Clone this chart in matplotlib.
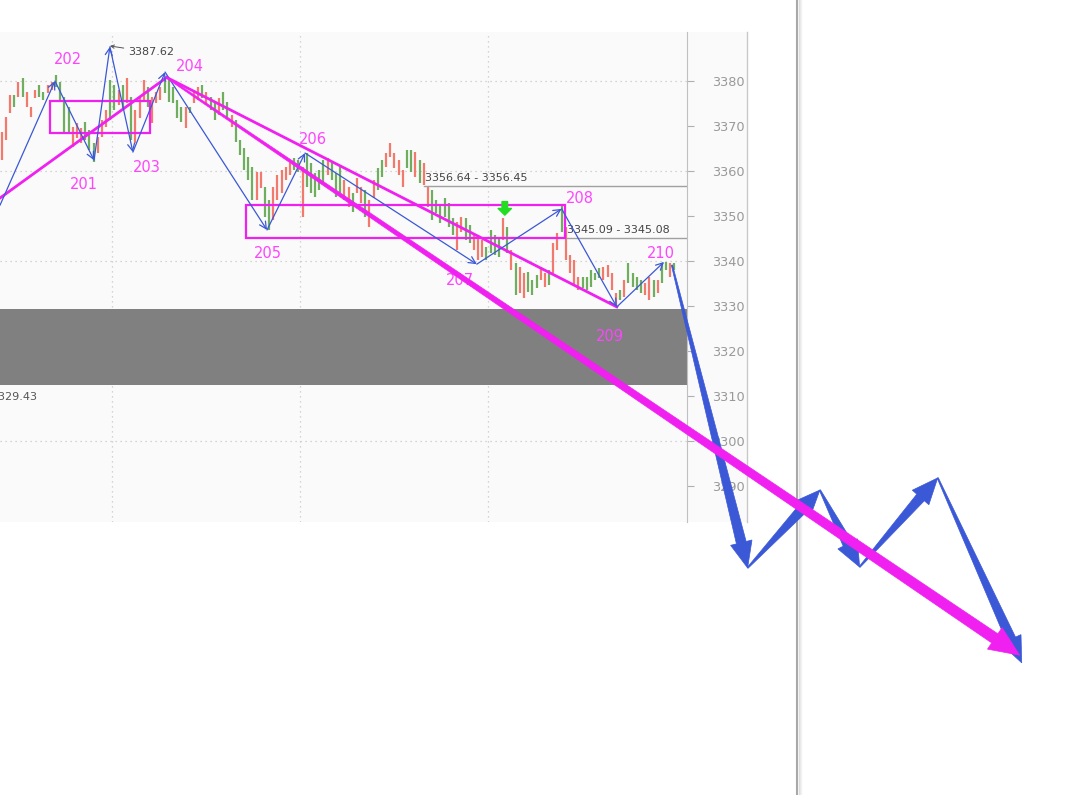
import matplotlib
matplotlib.use("Agg")
import matplotlib.pyplot as plt
from matplotlib.patches import Rectangle, Polygon
from matplotlib.lines import Line2D
from matplotlib.transforms import IdentityTransform
import numpy as np

# ---------------- data ----------------
bar_high = [3368.7, 3372.0, 3376.9, 3376.9, 3379.8, 3380.7, 3377.6, 3374.2, 3378.0, 3379.1,
            3377.6, 3379.1, 3379.8, 3381.3, 3379.8, 3376.4, 3374.2, 3369.8, 3370.7, 3369.6,
            3370.9, 3369.1, 3366.2, 3367.6, 3371.3, 3373.6, 3380.2, 3379.1, 3378.0, 3379.1,
            3380.7, 3376.4, 3373.6, 3376.4, 3380.2, 3378.7, 3376.4, 3377.6, 3378.7, 3380.2,
            3380.7, 3378.7, 3375.8, 3374.2, 3374.2, 3374.2, 3378.0, 3378.7, 3379.1, 3377.6,
            3376.4, 3375.3, 3376.2, 3377.6, 3375.3, 3372.4, 3371.3, 3366.9, 3365.1, 3363.1,
            3360.9, 3359.8, 3359.8, 3356.4, 3353.6, 3356.4, 3359.1, 3360.2, 3360.9, 3361.8,
            3362.9, 3362.4, 3360.9, 3364.0, 3361.8, 3359.6, 3360.2, 3362.4, 3362.9, 3361.8,
            3359.6, 3360.9, 3358.0, 3356.4, 3355.1, 3358.4, 3356.4, 3355.8, 3353.6, 3358.0,
            3360.7, 3362.4, 3364.0, 3366.2, 3364.0, 3362.4, 3360.2, 3364.7, 3364.7, 3364.2,
            3362.4, 3361.8, 3356.4, 3355.8, 3353.6, 3352.4, 3354.0, 3352.9, 3349.6, 3348.7,
            3349.8, 3349.6, 3348.0, 3346.2, 3345.3, 3344.7, 3343.1, 3346.9, 3345.8, 3345.3,
            3349.6, 3347.6, 3342.4, 3339.6, 3338.7, 3337.3, 3337.6, 3335.8, 3336.9, 3338.7,
            3337.3, 3338.0, 3344.0, 3346.2, 3352.4, 3347.6, 3341.3, 3340.2, 3336.4, 3336.4,
            3336.4, 3338.0, 3337.3, 3338.4, 3338.7, 3339.1, 3337.3, 3332.9, 3333.6, 3335.8,
            3339.6, 3337.3, 3336.4, 3335.8, 3335.1, 3336.4, 3335.8, 3335.8, 3339.6, 3339.8,
            3339.6, 3339.6]
bar_low = [3362.4, 3366.9, 3372.9, 3374.2, 3376.4, 3376.4, 3374.2, 3372.0, 3376.2, 3376.4,
           3375.8, 3377.3, 3378.0, 3378.7, 3375.3, 3368.4, 3368.4, 3365.3, 3367.3, 3366.2,
           3366.9, 3364.7, 3362.0, 3364.0, 3367.6, 3369.8, 3371.3, 3373.6, 3374.7, 3373.6,
           3375.1, 3366.9, 3366.2, 3371.8, 3375.8, 3374.2, 3370.7, 3375.1, 3375.8, 3377.3,
           3375.3, 3375.1, 3371.8, 3370.9, 3369.6, 3372.9, 3375.1, 3375.8, 3376.2, 3374.7,
           3373.6, 3371.3, 3372.4, 3373.6, 3371.8, 3369.8, 3366.4, 3363.6, 3360.2, 3358.0,
           3353.6, 3353.6, 3356.2, 3349.8, 3346.9, 3349.1, 3353.6, 3355.1, 3358.0, 3359.1,
           3360.2, 3359.8, 3349.8, 3356.4, 3355.1, 3354.2, 3355.8, 3357.3, 3359.1, 3358.0,
           3354.2, 3355.1, 3353.6, 3352.0, 3350.9, 3355.1, 3352.9, 3349.8, 3347.6, 3354.0,
           3355.8, 3358.7, 3360.9, 3363.1, 3360.7, 3359.1, 3356.4, 3360.7, 3359.8, 3358.7,
           3357.3, 3356.9, 3352.0, 3349.1, 3350.7, 3348.4, 3349.8, 3347.6, 3345.8, 3342.4,
           3346.4, 3344.7, 3344.0, 3342.4, 3340.2, 3340.9, 3340.2, 3341.8, 3341.3, 3340.9,
           3344.7, 3341.8, 3338.0, 3332.4, 3332.9, 3331.8, 3333.1, 3332.4, 3334.0, 3335.8,
           3334.2, 3334.7, 3337.3, 3342.4, 3346.4, 3340.2, 3337.3, 3334.7, 3333.6, 3334.0,
           3333.6, 3334.2, 3335.8, 3336.2, 3335.8, 3336.4, 3333.6, 3329.8, 3331.3, 3332.0,
           3335.1, 3334.2, 3333.6, 3332.9, 3332.4, 3331.3, 3332.0, 3332.9, 3335.1, 3338.0,
           3336.4, 3338.0]
bar_dir = ("rrrgrgrrrg" "grrggggrrr" "gggrrrggrg" "rgrrrgrrrg" "ggggrgrrgr"
           "ggrggrgggg" "grrggrrrrr" "ggrgggggrg" "ggrrgrrgrr" "ggrrrrrggr"
           "grrggggggr" "rggrrrgggg" "rgrgrrgggr" "rgrrgrrrrg" "ggggrrrrgr"
           "ggggrrgrgg" "rgrrggr")[:len(bar_high)]

# swing points (bar index, price)
swing_x = [-0.4, 12.75, 22.1, 25.9, 31.4, 39.1, 63.5, 72.6, 113.7, 134.0, 147.2, 158.5]
swing_y = [3352.4, 3380.0, 3362.4, 3387.62, 3364.2, 3382.0, 3346.9, 3364.0, 3339.3, 3351.6, 3329.8, 3339.8]

wave_labels = ["202", "201", "203", "204", "205", "206", "207", "208", "209", "210"]
wave_lx = [15.9, 19.7, 34.8, 45.1, 63.7, 74.5, 109.7, 138.4, 145.5, 157.7]
wave_ly = [3384.7, 3356.9, 3360.7, 3383.3, 3341.6, 3367.1, 3335.6, 3354.0, 3323.3, 3341.6]

# projected path
proj_x = [160.4, 178.5, 195.8, 205.3, 224.0, 244.1]
proj_y = [3339.1, 3271.8, 3289.1, 3272.0, 3291.8, 3250.7]

# magenta trend lines
trend_start = (-0.4, 3354.0)
trend_pivot = (39.5, 3380.8)
trend_end_upper = (147.2, 3329.8)
trend_proj_end = (243.6, 3252.4)

# boxes (x0, x1, low, high)
boxes = [(11.6, 35.5, 3368.4, 3375.6), (58.4, 134.8, 3345.1, 3352.4)]

levels = [(101.0, 3356.64, "3356.64 - 3356.45"), (135.0, 3345.09, "3345.09 - 3345.08")]
band_top, band_bottom = 3329.43, 3312.4
yticks = [3290, 3300, 3310, 3320, 3330, 3340, 3350, 3360, 3370, 3380]

# ---------------- style ----------------
BLUE = "#3b58d6"
MAG = "#f020f0"
LMAG = "#ff44ff"
RED = "#f27a6c"
GREEN = "#6fae5e"

W, H = 1089, 795
fig = plt.figure(figsize=(W / 100, H / 100), dpi=100)
fig.patch.set_facecolor("white")

fig.add_artist(Rectangle((0, 1 - 522 / H), 747 / W, 490 / H, transform=fig.transFigure,
                         facecolor="#fafafa", edgecolor="none", zorder=0))
fig.add_artist(Line2D([747 / W, 747 / W], [1 - 522 / H, 1 - 32 / H], transform=fig.transFigure,
                      color="#c8c8c8", lw=1.0, zorder=1))
fig.add_artist(Line2D([797 / W, 797 / W], [0, 1], transform=fig.transFigure, color="#a8a8a8", lw=1.5, zorder=1))
for k, c in enumerate(["#dcdcdc", "#e8e8e8", "#f2f2f2"]):
    x = (799 + k) / W
    fig.add_artist(Line2D([x, x], [0, 1], transform=fig.transFigure, color=c, lw=1, zorder=1))

ax = fig.add_axes([0, 1 - 522 / H, 687 / W, 490 / H])
ax.set_facecolor("#fafafa")
ax.set_xlim(-0.4, 164.0)
ax.set_ylim(3282.0, 3390.9)
for s in ["left", "top", "bottom"]:
    ax.spines[s].set_visible(False)
ax.spines["right"].set_color("#c0c0c0")
ax.set_xticks([])
ax.yaxis.tick_right()
ax.set_yticks(yticks)
ax.set_yticklabels([str(t) for t in yticks])
ax.tick_params(axis="y", length=5, color="#b0b0b0", labelcolor="#999999", labelsize=9.3, pad=13)

for g in [3300, 3320, 3340, 3360, 3380]:
    ax.axhline(g, color="#c8c8c8", lw=0.9, ls=(0, (1, 3)), zorder=1)
for gx in [26.4, 71.4, 116.4]:
    ax.axvline(gx, color="#c8c8c8", lw=0.9, ls=(0, (1, 3)), zorder=1)

ax.axhspan(band_bottom, band_top, color="#808080", zorder=2, lw=0)
ax.text(8.4, 3309.8, "3329.43", ha="right", va="center", fontsize=8, color="#555555", clip_on=True, zorder=3)

xs = np.arange(len(bar_high))
cols = [RED if c == "r" else GREEN for c in bar_dir]
ax.vlines(xs, bar_low, bar_high, colors=cols, lw=1.6, zorder=3)

for lx, lv, txt in levels:
    ax.plot([lx, 164.0], [lv, lv], color="#a0a0a0", lw=1.0, zorder=3)
    ax.text(lx + 0.2, lv + 0.8, txt, fontsize=8, color="#444444", ha="left", va="bottom", zorder=6)

for x0, x1, lo, hi in boxes:
    ax.add_patch(Rectangle((x0, lo), x1 - x0, hi - lo, fill=False, edgecolor=MAG, lw=1.6, zorder=5))

ax.plot([trend_start[0], trend_pivot[0]], [trend_start[1], trend_pivot[1]], color=MAG, lw=2.0, zorder=5)
ax.plot([trend_pivot[0], trend_end_upper[0]], [trend_pivot[1], trend_end_upper[1]], color=MAG, lw=2.0, zorder=5)

for i in range(len(swing_x) - 1):
    ax.annotate("", xy=(swing_x[i + 1], swing_y[i + 1]), xytext=(swing_x[i], swing_y[i]),
                arrowprops=dict(arrowstyle="->,head_length=0.5,head_width=0.25", color=BLUE, lw=0.9,
                                shrinkA=0, shrinkB=0, mutation_scale=10), zorder=6)

ax.annotate("3387.62", xy=(25.9, 3387.8), xytext=(30.2, 3386.4), fontsize=8, color="#444444",
            ha="left", va="center",
            arrowprops=dict(arrowstyle="->", color="#555555", lw=0.7, shrinkA=1, shrinkB=0,
                            mutation_scale=6), zorder=6)

for t, lx, ly in zip(wave_labels, wave_lx, wave_ly):
    ax.text(lx, ly, t, color=LMAG, fontsize=10.5, ha="center", va="center", zorder=7)

ax.annotate("", xy=(120.4, 3350.2), xytext=(120.4, 3353.2),
            arrowprops=dict(arrowstyle="simple,head_length=0.6,head_width=1.2,tail_width=0.5",
                            color="#22dd22", shrinkA=0, shrinkB=0, mutation_scale=8), zorder=7)


def taper_arrow(p0, p1, w0, w1, hw, hl, color, z):
    """Arrow that widens from w0 px at the tail to w1 px at the head base (display px)."""
    a = ax.transData.transform(p0)
    b = ax.transData.transform(p1)
    d = b - a
    L = np.hypot(*d)
    u = d / L
    n = np.array([-u[1], u[0]])
    base = b - u * hl
    pts = [a + n * w0 / 2, base + n * w1 / 2, base + n * hw / 2, b,
           base - n * hw / 2, base - n * w1 / 2, a - n * w0 / 2]
    poly = Polygon(pts, closed=True, facecolor=color, edgecolor=color, lw=0.5,
                   transform=IdentityTransform(), zorder=z)
    fig.add_artist(poly)


for i in range(len(proj_x) - 1):
    taper_arrow((proj_x[i], proj_y[i]), (proj_x[i + 1], proj_y[i + 1]), 1.2, 10, 22, 26, BLUE, 8)
taper_arrow(trend_pivot, trend_proj_end, 1.5, 11, 26, 30, MAG, 9)

fig.savefig("out.png", dpi=100)
